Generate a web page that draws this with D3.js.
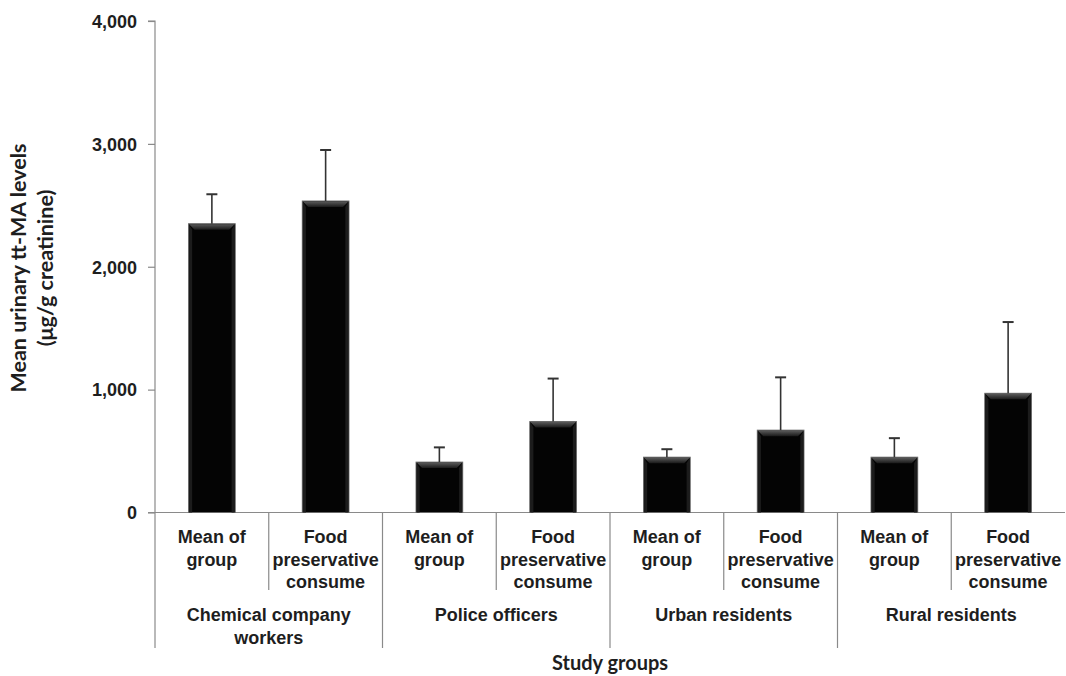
<!DOCTYPE html>
<html><head><meta charset="utf-8">
<script src="https://cdn.jsdelivr.net/npm/d3@7"></script>
<style>body{margin:0;background:#fff}svg{display:block}</style>
</head><body>
<svg id="c" width="1066" height="676"></svg>
<script>
const groups = ["Chemical company\nworkers", "Police officers", "Urban residents", "Rural residents"];
const subLabels = ["Mean of\ngroup", "Food\npreservative\nconsume"];
const means = [2350, 2535, 410, 740, 450, 670, 450, 970];
const errTops = [2590, 2950, 530, 1090, 515, 1100, 605, 1550];
const yTicks = [0, 1000, 2000, 3000, 4000];
const yTitle = ["Mean urinary tt-MA levels", "(μg/g creatinine)"];
const xTitle = "Study groups";

(function(){
const svg = d3.select("#c");
const pL = 155, pR = 1065, pT = 21, pB = 512.5;
const keys = d3.range(means.length);
const x = d3.scaleBand().domain(keys).range([pL, pR]).paddingInner(0).paddingOuter(0);
const y = d3.scaleLinear().domain([0, 4000]).range([pB, pT]);
const axisCol = "#8a8a8a", txtCol = "#1e1e1e";
const labFont = "'Liberation Sans', Arial, sans-serif";
const titleFont = "Lato, 'Open Sans', sans-serif";
const labSize = "18px";

const defs = svg.append("defs");
const gTop = defs.append("linearGradient").attr("id","gt").attr("x1",0).attr("y1",0).attr("x2",0).attr("y2",1);
gTop.append("stop").attr("offset","0%").attr("stop-color","#5a5a5a");
gTop.append("stop").attr("offset","100%").attr("stop-color","#1a1a1a");

// y axis
const yAxis = d3.axisLeft(y).tickValues(yTicks).tickSize(7).tickPadding(11).tickFormat(d3.format(","));
const ya = svg.append("g").attr("transform", `translate(${pL},0)`).call(yAxis);
ya.select(".domain").attr("stroke", axisCol).attr("stroke-width",1.2).attr("d", `M-7,${pT}H0V${pB}`);
ya.selectAll(".tick line").attr("stroke", axisCol).attr("stroke-width",1.2);
ya.selectAll(".tick text").attr("fill", txtCol).attr("dy","0.35em").style("font-family", labFont).style("font-weight","bold").style("font-size", labSize);

svg.append("line").attr("x1", pL - 7).attr("x2", pR).attr("y1", pB).attr("y2", pB)
  .attr("stroke", axisCol).attr("stroke-width", 1.2);

// bars
const bw = x.bandwidth() * 0.41;
const bev = 6;
const bars = svg.append("g");
keys.forEach(i => {
  const cx = x(i) + x.bandwidth()/2;
  const x0 = cx - bw/2, x1 = cx + bw/2, yt = y(means[i]), yb = y(0);
  bars.append("rect").attr("x", x0).attr("y", yt).attr("width", bw).attr("height", yb - yt)
    .attr("fill", "#040404").attr("stroke", "#6a6a6a").attr("stroke-width", 1);
  bars.append("path").attr("d", `M${x0+0.5},${yt+0.5}L${x1-0.5},${yt+0.5}L${x1-bev},${yt+bev}L${x0+bev},${yt+bev}Z`).attr("fill", "url(#gt)");
  bars.append("path").attr("d", `M${x0+0.5},${yt+0.5}L${x0+bev*0.6},${yt+bev}L${x0+bev*0.6},${yb}L${x0+0.5},${yb}Z`).attr("fill", "#1c1c1c");
  bars.append("path").attr("d", `M${x1-0.5},${yt+0.5}L${x1-bev*0.6},${yt+bev}L${x1-bev*0.6},${yb}L${x1-0.5},${yb}Z`).attr("fill", "#1c1c1c");
});

// error bars
const eb = svg.append("g").attr("stroke", "#333").attr("stroke-width", 1.6);
keys.forEach(i => {
  const cx = x(i) + x.bandwidth()/2;
  eb.append("line").attr("x1", cx).attr("x2", cx).attr("y1", y(means[i])).attr("y2", y(errTops[i]));
  eb.append("line").attr("x1", cx - 5.5).attr("x2", cx + 5.5).attr("y1", y(errTops[i])).attr("y2", y(errTops[i])).attr("stroke-width", 2);
});

// separators
const sep = svg.append("g").attr("stroke", axisCol).attr("stroke-width", 1.2);
keys.forEach(i => {
  const xx = x(i);
  const isGroup = i % 2 === 0;
  sep.append("line").attr("x1", xx).attr("x2", xx).attr("y1", pB).attr("y2", isGroup ? 648 : 590);
});

const lab = svg.append("g").attr("fill", txtCol).style("font-family", labFont).style("font-weight", "bold").style("font-size", labSize).attr("text-anchor", "middle");
keys.forEach(i => {
  const cx = x(i) + x.bandwidth()/2;
  const lines = subLabels[i % 2].split("\n");
  const t = lab.append("text").attr("x", cx).attr("y", 543);
  lines.forEach((l, k) => t.append("tspan").attr("x", cx).attr("dy", k === 0 ? 0 : 22.5).text(l));
});

groups.forEach((g, gi) => {
  const cx = (x(gi*2) + x(gi*2+1) + x.bandwidth())/2;
  const lines = g.split("\n");
  const t = lab.append("text").attr("x", cx).attr("y", 621);
  lines.forEach((l, k) => t.append("tspan").attr("x", cx).attr("dy", k === 0 ? 0 : 22.5).text(l));
});

svg.append("text").attr("x", (pL + pR)/2).attr("y", 670).attr("text-anchor", "middle")
  .attr("fill", txtCol).style("font-family", titleFont).style("font-weight", "bold").style("font-size", "20px").text(xTitle);

const ytt = svg.append("text").attr("transform", "translate(26,268) rotate(-90)").attr("text-anchor", "middle")
  .attr("fill", txtCol).style("font-family", titleFont).style("font-weight", "bold").style("font-size", "21.5px");
yTitle.forEach((l, k) => ytt.append("tspan").attr("x", 0).attr("dy", k === 0 ? 0 : 27).text(l));
})();
</script>
</body></html>
